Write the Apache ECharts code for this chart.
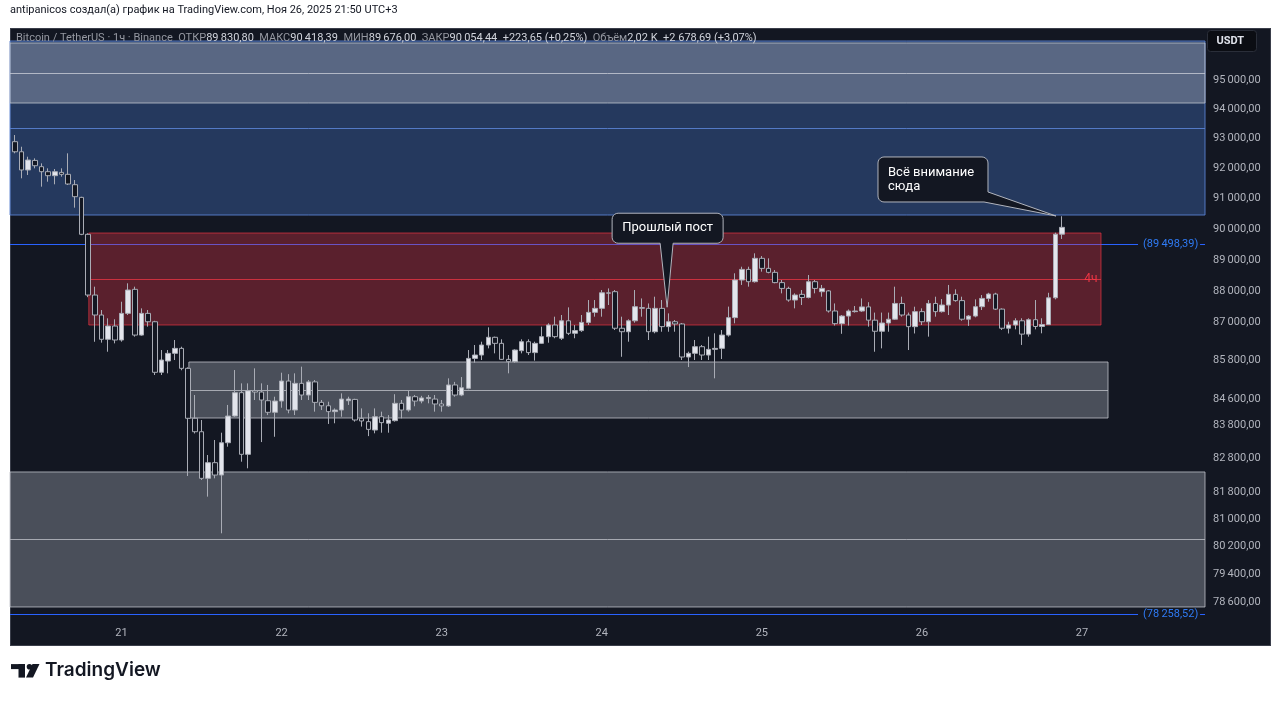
<!DOCTYPE html>
<html><head><meta charset="utf-8">
<script src="https://cdn.jsdelivr.net/npm/echarts@6/dist/echarts.min.js"></script>
<style>
html,body{margin:0;padding:0;background:#fff;width:1280px;height:701px;overflow:hidden}
#panel{position:absolute;left:10px;top:28px;width:1259px;height:616px;background:#131722;border:1px solid #3a3e4a;box-sizing:content-box}
#chart{position:absolute;left:0;top:0;width:1280px;height:701px}
</style></head><body>
<div id="panel"></div>
<div id="chart"></div>
<script>
// ---------- DATA (BTC/USDT, 1h candles; hour counted from 2025-11-20 00:00 UTC+3) ----------
const startHour = 8;
const opens = [
 92900,92560,91950,92270,92060,91893,91760,91870,
 91805,91460,91040,89827,87868,87233,86467,86885,
 86445,87285,88050,86600,87285,87020,85437,85788,
 86027,86183,85560,84022,83613,82210,82679,82309,
 83280,84092,84807,82930,84868,84827,84560,84205,
 84550,85167,84275,85095,84735,85140,84510,84405,
 84225,84275,84560,84600,84020,83920,83665,84070,
 83870,83950,84480,84275,84683,84550,84630,84610,
 84460,84400,85045,84735,84940,85870,85975,86288,
 86530,86340,85840,85767,86110,86392,86050,86340,
 86550,86917,86500,87050,86655,86740,87000,87317,
 87444,87940,87975,86815,86705,87050,87470,87444,
 86705,87444,86865,87020,86950,85913,86027,86235,
 85975,86152,86183,86600,87150,88349,88690,88295,
 89047,88723,88595,88265,88080,87709,87890,87790,
 88295,87975,88000,87360,86960,87200,87340,87360,
 87490,87070,86720,86980,87100,87600,87233,86865,
 87340,87020,87600,87340,87550,87890,87690,87100,
 87200,87497,87760,87900,87420,86815,86917,87050,
 86630,87085,86870,86930,87780,89830.80];
const highs = [
 93125,92730,92394,92340,92172,92005,91983,92005,
 92508,91616,91060,89860,88135,87391,87129,87097,
 87655,88243,88135,87444,87391,87050,86131,86131,
 86445,86235,85590,84735,83970,82909,83362,83584,
 84430,85508,85095,85095,85560,85095,85045,84683,
 85425,85380,85405,85612,85198,85198,84582,84530,
 84325,84786,84683,84620,84325,84175,84325,84225,
 84120,84760,84582,84889,84735,84710,84735,84735,
 84582,85250,85140,85290,86131,86288,86392,86844,
 86550,86467,85975,86152,86467,86467,86392,86865,
 86970,87180,87233,87476,86917,87233,87709,87709,
 88028,88080,88028,87180,87097,88028,87760,87600,
 87815,87709,87285,87075,86980,86080,86445,86288,
 86550,86655,86759,87500,88564,88777,88777,89209,
 89120,89047,88670,88349,88135,87922,88028,88510,
 88349,88190,88028,87600,87233,87410,87518,87760,
 87640,87310,87310,87310,88135,87815,87310,87497,
 87444,87709,87815,87740,88190,88050,87815,87233,
 87730,87868,87940,87940,87444,87020,87130,87130,
 87130,87709,87130,87940,89880,90418.39];
const lows = [
 92508,91672,91783,92005,91395,91560,91473,91727,
 91450,90700,89800,87800,86390,86362,86078,86340,
 86392,87233,86550,86580,86865,85353,85353,85405,
 85819,85500,82280,83560,82160,81665,82210,80585,
 83160,84070,82708,82510,84582,83300,84120,83460,
 84345,84175,84120,84582,84582,84225,84275,83850,
 83870,84070,84430,83920,83770,83480,83565,83584,
 83584,83920,84020,84225,84390,84480,84480,84225,
 84225,84370,84683,84700,84910,85735,85819,86183,
 86027,85819,85405,85735,86027,85975,85800,86320,
 86360,86500,86445,86600,86500,86700,86917,87180,
 87180,87550,86759,85920,86392,86990,87180,86445,
 86655,86705,86705,86705,85819,85600,85819,85819,
 85819,85250,85850,86550,86970,88190,88135,88265,
 88617,88564,88243,87922,87655,87444,87550,87760,
 87922,87815,87310,86900,86640,86900,87310,87330,
 86865,86078,86183,86705,87075,87180,86131,86650,
 86917,86550,87180,87310,87233,87655,87050,86890,
 87160,87391,87655,87391,86759,86650,86780,86290,
 86550,86780,86655,86917,87730,89676.00];
const closes = [
 92560,91950,92283,92093,91893,91760,91893,91805,
 91483,91063,89827,87868,87233,86467,86885,86445,
 87285,88028,86600,87285,87020,85437,85819,86027,
 86183,85560,84022,83613,82210,82679,82309,83280,
 84092,84807,82930,84868,84827,84582,84205,84550,
 85167,84275,85095,84735,85140,84510,84405,84225,
 84275,84612,84612,83970,83940,83685,84070,83890,
 83970,84480,84275,84683,84550,84645,84660,84460,
 84400,85045,84735,84960,85870,85975,86288,86530,
 86340,85840,85767,86131,86392,86050,86340,86550,
 86917,86550,87050,86655,86740,87000,87317,87444,
 87940,87925,86815,86705,87050,87497,87444,86705,
 87444,86865,87020,86950,85913,86027,86235,85975,
 86152,86183,86600,87150,88349,88690,88295,89047,
 88723,88595,88265,88080,87709,87868,87790,88295,
 88080,88080,87360,86960,87200,87360,87360,87490,
 87070,86720,86980,87100,87600,87233,86865,87340,
 87020,87600,87340,87550,87890,87690,87100,87200,
 87497,87760,87900,87420,86815,86917,87050,86630,
 87085,86870,86930,87780,89830.79,90054.44];

const dayTicks  = [24, 48, 72, 96, 120, 144, 168];
const dayLabels = ['21','22','23','24','25','26','27'];
const priceTicks = [95000,94000,93000,92000,91000,90000,89000,88000,87000,85800,84600,83800,82800,81800,81000,80200,79400,78600];

// rectangles (zones): null start/end = extended across the whole chart
const zoneStart = [null, null, 19.1, 34.1, null];
const zoneEnd   = [null, null, 170.85, 171.9, null];
const zoneLow   = [90459, 94213, 86917, 84031, 78458];
const zoneHigh  = [96358, 96289, 89869, 85757, 82400];
const zoneText  = ['', '', '4ч', '', ''];

// horizontal price levels
const levelPrices = [89498.39, 78258.52];

// callouts
const calloutText = ['Прошлый пост', 'Всё внимание\nсюда'];
const calloutHour = [105.8, 164.1];
const calloutPrice = [87480, 90427];

const volumeText = '2,02 K';
const dayChangeText = '+2 678,69 (+3,07%)';

// ---------- LAYOUT / STYLE ----------
const X_MIN = 7.283, X_MAX = 186.44;
const Y_MIN = 78088, Y_MAX = 96815;
const FONT = 'Roboto, "Noto Sans", "DejaVu Sans", sans-serif';
const zoneFill   = ['rgba(66,110,184,0.40)', 'rgba(142,150,168,0.50)', 'rgba(242,54,69,0.32)', 'rgba(130,135,146,0.50)', 'rgba(130,135,146,0.50)'];
const zoneBorder = ['rgba(90,130,210,0.9)', 'rgba(190,195,205,0.8)', 'rgba(242,54,69,0.65)', 'rgba(190,193,200,0.8)', 'rgba(190,193,200,0.8)'];
const zoneMid    = ['rgba(90,130,210,0.9)', 'rgba(200,205,215,0.8)', 'rgba(242,54,69,0.75)', 'rgba(190,193,200,0.8)', 'rgba(190,193,200,0.8)'];

function fmt(v) {
  const s = Number(v).toFixed(2);
  const parts = s.split('.');
  return parts[0].replace(/\B(?=(\d{3})+(?!\d))/g, '\u2009') + ',' + parts[1];
}

const candles = opens.map((o, i) => [startHour + i, o, closes[i], lows[i], highs[i]]);

const zoneAreas = zoneLow.map((lo, i) => [
  { xAxis: zoneStart[i] == null ? X_MIN : zoneStart[i], yAxis: zoneHigh[i],
    itemStyle: { color: zoneFill[i], borderColor: zoneBorder[i], borderWidth: 1 },
    label: { show: !!zoneText[i], formatter: zoneText[i], position: 'insideRight', distance: 4, color: '#f23645', fontSize: 12, fontFamily: FONT } },
  { xAxis: zoneEnd[i] == null ? X_MAX : zoneEnd[i], yAxis: lo }
]);
const zoneMidLines = zoneLow.map((lo, i) => {
  const mid = Math.sqrt(lo * zoneHigh[i]);
  return [
    { coord: [zoneStart[i] == null ? X_MIN : zoneStart[i], mid], lineStyle: { color: zoneMid[i], width: 1, type: 'solid' } },
    { coord: [zoneEnd[i] == null ? X_MAX : zoneEnd[i], mid] }
  ];
});
const LABEL_START = 176.4, DASH_START = 185.7;
const levelLines = [];
levelPrices.forEach(p => {
  levelLines.push([
    { coord: [X_MIN, p], label: { show: true, position: 'end', distance: 5, formatter: '(' + fmt(p) + ')', color: '#2f7bf5', fontSize: 11, fontFamily: FONT } },
    { coord: [LABEL_START, p] }
  ]);
  levelLines.push([
    { coord: [DASH_START, p], label: { show: false } },
    { coord: [X_MAX, p] }
  ]);
});

const n = closes.length;
const chg = closes[n - 1] - closes[n - 2];
const chgPct = chg / closes[n - 2] * 100;
const legendText =
  '{g|Bitcoin / TetherUS · 1ч · Binance}  {g|ОТКР}{v|' + fmt(opens[n - 1]) + '}  {g|МАКС}{v|' + fmt(highs[n - 1]) +
  '}  {g|МИН}{v|' + fmt(lows[n - 1]) + '}  {g|ЗАКР}{v|' + fmt(closes[n - 1]) + '}  {v|' + (chg >= 0 ? '+' : '') + fmt(chg) +
  ' (' + (chgPct >= 0 ? '+' : '') + chgPct.toFixed(2).replace('.', ',') + '%)}  {g|Объём}{v|' + volumeText + '}  {v|' + dayChangeText + '}';

const chart = echarts.init(document.getElementById('chart'), null, { renderer: 'canvas' });
chart.setOption({
  backgroundColor: 'transparent',
  animation: false,
  textStyle: { fontFamily: FONT },
  grid: { left: 10, right: 75, top: 28, bottom: 81, containLabel: false },
  xAxis: {
    type: 'value', min: X_MIN, max: X_MAX,
    axisLine: { show: false }, axisTick: { show: false }, splitLine: { show: false },
    axisLabel: { customValues: dayTicks, formatter: v => dayLabels[dayTicks.indexOf(v)] || '', color: '#b2b5be', fontSize: 11, margin: 8, fontFamily: FONT }
  },
  yAxis: {
    type: 'log', logBase: 10, position: 'right', min: Y_MIN, max: Y_MAX,
    axisLine: { show: false }, axisTick: { show: false }, splitLine: { show: false },
    axisLabel: { customValues: priceTicks, formatter: v => fmt(v), color: '#b2b5be', fontSize: 11, margin: 8, fontFamily: FONT }
  },
  series: [
    { type: 'line', name: 'levels', data: [], z: 1, silent: true,
      markLine: { silent: true, z: 1, symbol: ['none', 'none'], lineStyle: { color: '#2962ff', width: 1, type: 'solid' }, label: { show: false }, data: levelLines } },
    { type: 'line', name: 'zones', data: [], z: 2, silent: true,
      markArea: { silent: true, z: 2, data: zoneAreas },
      markLine: { silent: true, z: 2, symbol: ['none', 'none'], label: { show: false }, data: zoneMidLines } },
    { type: 'candlestick', name: 'BTCUSDT', z: 3, barWidth: 5,
      dimensions: ['t', 'open', 'close', 'low', 'high'],
      encode: { x: 't', y: ['open', 'close', 'low', 'high'] },
      data: candles,
      itemStyle: { color: '#e3e5ec', color0: '#131722', borderColor: '#a9acb5', borderColor0: '#a9acb5', borderColorDoji: '#a9acb5', borderWidth: 1 } }
  ],
  graphic: [
    { type: 'text', id: 'hdr', left: 10, top: 5, style: { text: 'antipanicos создал(а) график на TradingView.com, Ноя 26, 2025 21:50 UTC+3', fill: '#131722', font: 'normal 11px ' + FONT } },
    { type: 'text', id: 'legend', left: 16, top: 33, z: 10, style: { text: legendText, font: '11px ' + FONT,
        rich: { g: { fill: '#9598a1', fontSize: 11, fontFamily: FONT }, v: { fill: '#d1d4dc', fontSize: 11, fontFamily: FONT } } } },
    { type: 'group', id: 'usdt', left: 1207, top: 30, z: 10, children: [
      { type: 'rect', id: 'usdtBox', shape: { x: 0, y: 0, width: 49, height: 21, r: 3 }, style: { fill: '#0b0d13', stroke: '#2a2e39', lineWidth: 1 } },
      { type: 'text', id: 'usdtText', style: { text: 'USDT', x: 9, y: 10.5, verticalAlign: 'middle', fill: '#e0e3eb', font: 'bold 11px ' + FONT } }
    ] },
    { type: 'group', id: 'logo', left: 11, top: 664, children: [
      { type: 'rect', id: 'lg1', shape: { x: 0, y: 2, width: 14, height: 5 }, style: { fill: '#131722' } },
      { type: 'rect', id: 'lg2', shape: { x: 7.5, y: 2, width: 6.5, height: 13.5 }, style: { fill: '#131722' } },
      { type: 'circle', id: 'lg3', shape: { cx: 18.5, cy: 4.7, r: 2.8 }, style: { fill: '#131722' } },
      { type: 'polygon', id: 'lg4', shape: { points: [[21.5, 2], [28.5, 2], [22, 15.5], [15, 15.5]] }, style: { fill: '#131722' } }
    ] },
    { type: 'text', id: 'logotext', left: 45, top: 661, style: { text: 'TradingView', fill: '#131722', font: '600 19px Inter, ' + FONT } }
  ]
});

// callouts anchored at data coordinates (rounded box + pointer as one polygon)
function arcPts(cx, cy, r, a0, a1) {
  const pts = [];
  for (let k = 0; k <= 5; k++) {
    const a = (a0 + (a1 - a0) * k / 5) * Math.PI / 180;
    pts.push([cx + r * Math.cos(a), cy + r * Math.sin(a)]);
  }
  return pts;
}
const extra = [];
calloutText.forEach((txt, i) => {
  const tip = chart.convertToPixel({ gridIndex: 0 }, [calloutHour[i], calloutPrice[i]]);
  const tx = tip[0], ty = tip[1], r = 6;
  let L, T, R, B, pts, textEl;
  if (i === 0) {
    L = tx - 55; R = tx + 56; T = ty - 94; B = ty - 64;
    pts = [].concat(arcPts(L + r, T + r, r, 180, 270), arcPts(R - r, T + r, r, 270, 360), arcPts(R - r, B - r, r, 0, 90),
      [[tx + 6, B], [tx, ty], [tx - 7, B]], arcPts(L + r, B - r, r, 90, 180));
    textEl = { type: 'text', id: 'coText' + i, z: 20, style: { text: txt, x: (L + R) / 2, y: (T + B) / 2, align: 'center', verticalAlign: 'middle', fill: '#ffffff', font: '13px ' + FONT } };
  } else {
    L = tx - 178; R = tx - 68; T = ty - 59; B = ty - 14;
    pts = [].concat(arcPts(L + r, T + r, r, 180, 270), arcPts(R - r, T + r, r, 270, 360),
      [[R, B - 10], [tx, ty], [R - 4, B]], arcPts(L + r, B - r, r, 90, 180));
    textEl = { type: 'text', id: 'coText' + i, z: 20, style: { text: txt, x: L + 10, y: (T + B) / 2, align: 'left', verticalAlign: 'middle', lineHeight: 14, fill: '#ffffff', font: '13px ' + FONT } };
  }
  extra.push({ type: 'polygon', id: 'coBox' + i, z: 19, shape: { points: pts }, style: { fill: '#131722', stroke: '#b2b5be', lineWidth: 1 } });
  extra.push(textEl);
});
chart.setOption({ graphic: extra });
</script>
</body></html>
